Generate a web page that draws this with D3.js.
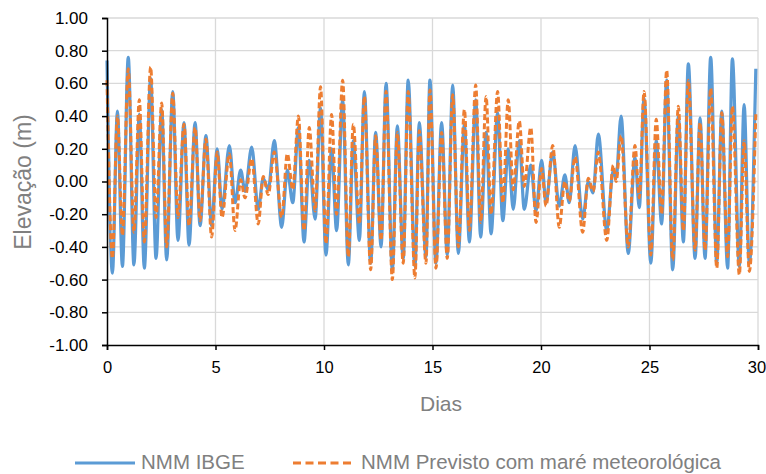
<!DOCTYPE html>
<html>
<head>
<meta charset="utf-8">
<script src="https://cdn.jsdelivr.net/npm/d3@7"></script>
<style>
  body { margin: 0; background: #fff; }
  text { font-family: "Liberation Sans", Arial, sans-serif; }
</style>
</head>
<body>
<script>
// instantes dos extremos (dias) e elevações
var dias = [0.00,0.25,0.48,0.71,0.98,1.24,1.49,1.72,2.01,2.26,2.52,2.75,3.03,3.27,3.55,3.78,4.06,4.29,4.56,4.82,
  5.08,5.30,5.64,5.90,6.16,6.36,6.67,6.97,7.20,7.43,7.71,8.05,8.31,8.56,8.82,9.08,9.32,9.59,9.84,10.09,
  10.35,10.58,10.86,11.12,11.35,11.63,11.86,12.15,12.38,12.63,12.86,13.15,13.38,13.65,13.88,14.19,14.39,14.70,14.88,15.16,
  15.42,15.68,15.93,16.19,16.47,16.70,16.99,17.22,17.47,17.70,18.00,18.24,18.49,18.72,19.00,19.23,19.53,19.77,20.03,20.23,
  20.54,20.84,21.10,21.30,21.57,21.92,22.18,22.40,22.64,23.03,23.33,23.46,23.69,24.02,24.33,24.53,24.75,25.06,25.31,25.56,
  25.79,26.07,26.33,26.56,26.79,27.10,27.33,27.56,27.82,28.10,28.33,28.60,28.82,29.14,29.36,29.60,29.90];

var nmmIBGE = [0.74,-0.56,0.43,-0.52,0.76,-0.51,0.41,-0.53,0.63,-0.47,0.44,-0.48,0.55,-0.36,0.36,-0.39,0.36,-0.27,0.28,-0.27,
  0.20,-0.17,0.22,-0.13,0.07,-0.06,0.21,-0.17,0.02,-0.05,0.25,-0.28,0.07,-0.13,0.33,-0.37,0.13,-0.23,0.45,-0.45,
  0.20,-0.30,0.50,-0.51,0.25,-0.36,0.55,-0.50,0.30,-0.40,0.60,-0.54,0.34,-0.47,0.62,-0.52,0.36,-0.46,0.62,-0.50,
  0.36,-0.45,0.59,-0.44,0.35,-0.37,0.50,-0.34,0.30,-0.32,0.42,-0.24,0.20,-0.17,0.25,-0.17,0.10,-0.18,0.13,-0.13,
  0.18,-0.15,0.04,-0.13,0.22,-0.23,0.00,-0.07,0.29,-0.30,0.07,0.02,0.40,-0.44,0.15,-0.16,0.51,-0.50,0.25,-0.26,
  0.62,-0.54,0.40,-0.37,0.72,-0.47,0.39,-0.47,0.76,-0.50,0.43,-0.53,0.75,-0.52,0.47,-0.50,0.69];

var nmmPrevisto = [0.62,-0.47,0.40,-0.33,0.69,-0.31,0.50,-0.37,0.70,-0.22,0.48,-0.40,0.54,-0.22,0.35,-0.27,0.33,-0.24,0.26,-0.34,
  0.18,-0.22,0.17,-0.30,0.01,-0.10,0.14,-0.26,0.03,-0.08,0.18,-0.22,0.17,-0.05,0.40,-0.30,0.33,-0.18,0.58,-0.38,
  0.41,-0.20,0.62,-0.46,0.35,-0.26,0.52,-0.54,0.28,-0.36,0.55,-0.60,0.30,-0.50,0.55,-0.59,0.31,-0.50,0.56,-0.53,
  0.30,-0.47,0.53,-0.40,0.44,-0.30,0.59,-0.25,0.52,-0.20,0.55,-0.13,0.50,-0.05,0.37,-0.03,0.33,-0.25,0.08,-0.15,
  0.22,-0.28,0.00,-0.12,0.15,-0.31,0.02,-0.06,0.18,-0.36,0.10,0.00,0.28,-0.40,0.22,-0.10,0.55,-0.45,0.38,-0.20,
  0.68,-0.48,0.46,-0.30,0.62,-0.42,0.36,-0.42,0.57,-0.53,0.42,-0.46,0.46,-0.57,0.25,-0.55,0.42];

var xTicks = [0, 5, 10, 15, 20, 25, 30];
var yTicks = [-1, -0.8, -0.6, -0.4, -0.2, 0, 0.2, 0.4, 0.6, 0.8, 1];

var w = 766, h = 474;
var mLeft = 107, mRight = 758, mTop = 18, mBottom = 345;

var svg = d3.select('body').append('svg')
  .attr('width', w).attr('height', h);

var x = d3.scaleLinear().domain([0, 30]).range([mLeft, mRight]);
var y = d3.scaleLinear().domain([-1, 1]).range([mBottom, mTop]);

// grade
svg.append('g').selectAll('line').data(yTicks.slice(1)).enter().append('line')
  .attr('x1', mLeft).attr('x2', mRight)
  .attr('y1', function(d){ return y(d); }).attr('y2', function(d){ return y(d); })
  .attr('stroke', '#d9d9d9').attr('stroke-width', 1.3);
svg.append('g').selectAll('line').data(xTicks.slice(1)).enter().append('line')
  .attr('x1', function(d){ return x(d); }).attr('x2', function(d){ return x(d); })
  .attr('y1', mTop).attr('y2', mBottom)
  .attr('stroke', '#d9d9d9').attr('stroke-width', 1.3);

// séries
var linha = function(vals){
  return d3.line()
    .x(function(d, i){ return x(dias[i]); })
    .y(function(d){ return y(d); })
    .curve(d3.curveMonotoneX)(vals);
};

svg.append('path').attr('d', linha(nmmIBGE))
  .attr('fill', 'none').attr('stroke', '#5b9bd5').attr('stroke-width', 3.2);
svg.append('path').attr('d', linha(nmmPrevisto))
  .attr('fill', 'none').attr('stroke', '#ed7d31').attr('stroke-width', 3)
  .attr('stroke-dasharray', '6,3');

// eixos
var yAxis = svg.append('g').attr('transform', 'translate(' + mLeft + ',0)')
  .call(d3.axisLeft(y).tickValues(yTicks).tickFormat(d3.format('.2f')).tickSizeOuter(0).tickSize(5));
var xAxis = svg.append('g').attr('transform', 'translate(0,' + mBottom + ')')
  .call(d3.axisBottom(x).tickValues(xTicks).tickSizeOuter(0).tickSize(5));

[yAxis, xAxis].forEach(function(g){
  g.select('.domain').attr('stroke', '#000').attr('stroke-width', 1.5);
  g.selectAll('.tick line').attr('stroke', '#000').attr('stroke-width', 1.5);
  g.selectAll('.tick text').attr('fill', '#000')
    .style('font-family', '"Liberation Sans", Arial, sans-serif').style('font-size', '17px');
});
yAxis.selectAll('.tick text').attr('x', -19).text(function(d){ return d3.format('.2f')(d).replace('−', '-'); });
xAxis.selectAll('.tick text').attr('y', 16).style('font-size', '16.5px');
// o "30" fica encostado na borda direita
xAxis.selectAll('.tick text').filter(function(d){ return d === 30; }).attr('dx', -1.5);

// títulos
svg.append('text').attr('transform', 'translate(31,182) rotate(-90)')
  .attr('text-anchor', 'middle').attr('fill', '#808080').style('font-size', '23px')
  .text('Elevação (m)');
svg.append('text').attr('x', 441).attr('y', 411)
  .attr('text-anchor', 'middle').attr('fill', '#808080').style('font-size', '21px')
  .text('Dias');

// legenda
var leg = svg.append('g');
leg.append('line').attr('x1', 75).attr('x2', 135).attr('y1', 463).attr('y2', 463)
  .attr('stroke', '#5b9bd5').attr('stroke-width', 3);
leg.append('text').attr('x', 141).attr('y', 469).attr('fill', '#808080').style('font-size', '20.5px')
  .text('NMM IBGE');
leg.append('line').attr('x1', 293).attr('x2', 355).attr('y1', 463).attr('y2', 463)
  .attr('stroke', '#ed7d31').attr('stroke-width', 3).attr('stroke-dasharray', '8,4.5');
leg.append('text').attr('x', 361).attr('y', 469).attr('fill', '#808080').style('font-size', '20.5px')
  .text('NMM Previsto com maré meteorológica');
</script>
</body>
</html>
